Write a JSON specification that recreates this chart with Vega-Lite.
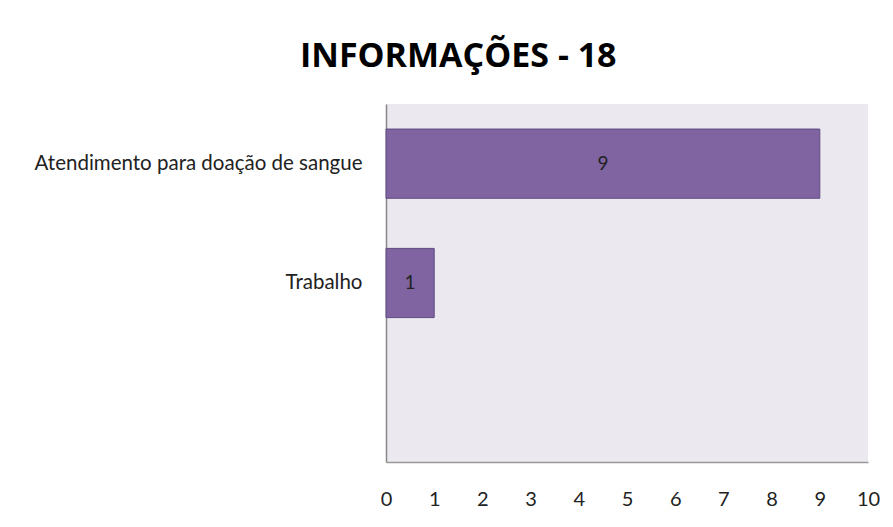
{
  "$schema": "https://vega.github.io/schema/vega-lite/v6.json",
  "width": 482,
  "height": 358,
  "autosize": {"type": "none"},
  "padding": {"left": 386, "top": 104, "right": 25, "bottom": 65},
  "background": "white",
  "title": {"text": "INFORMAÇÕES - 18", "anchor": "start", "frame": "group", "dx": -86, "offset": 30, "fontSize": 34, "font": "Open Sans", "fontWeight": "bold", "color": "black"},
  "config": {"view": {"fill": "#ECE8EF", "stroke": null}},
  "data": {"values": [
    {"categoria": "Atendimento para doação de sangue", "valor": 9},
    {"categoria": "Trabalho", "valor": 1}
  ]},
  "encoding": {
    "y": {"field": "categoria", "type": "nominal", "title": null,
      "scale": {"domain": ["Atendimento para doação de sangue", "Trabalho", ""], "paddingInner": 0.42, "paddingOuter": 0.21},
      "axis": {"ticks": false, "domainColor": "#888888", "domainWidth": 1.5, "labelPadding": 24, "labelFont": "Lato", "labelFontSize": 20.5, "labelColor": "#222222", "labelLimit": 400}}
  },
  "layer": [
    {"mark": {"type": "bar", "color": "#8064A2", "stroke": "#5E4A80", "strokeWidth": 1},
     "encoding": {"x": {"field": "valor", "type": "quantitative", "title": null,
      "scale": {"domain": [0, 10], "nice": false},
      "axis": {"values": [0,1,2,3,4,5,6,7,8,9,10], "grid": false, "ticks": false, "labelFlush": false, "domainColor": "#999999", "domainWidth": 1.5, "labelPadding": 27, "labelFont": "Lato", "labelFontSize": 20, "labelColor": "#222222"}}}},
    {"mark": {"type": "text", "font": "Lato", "fontSize": 19, "color": "#222222"},
     "encoding": {"x": {"field": "valor", "type": "quantitative", "scale": {"domain": [0, 20], "nice": false}, "axis": null},
       "text": {"field": "valor", "type": "quantitative"}}}
  ],
  "resolve": {"scale": {"x": "independent"}}
}
